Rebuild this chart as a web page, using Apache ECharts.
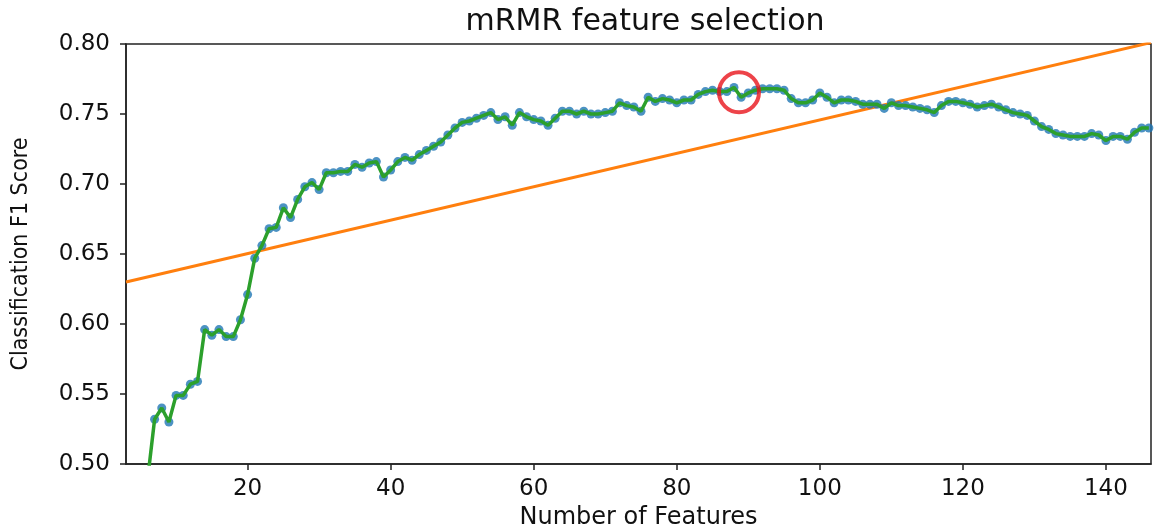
<!DOCTYPE html>
<html>
<head>
<meta charset="utf-8">
<script src="https://cdn.jsdelivr.net/npm/echarts@6/dist/echarts.min.js"></script>
<style>
  html, body { margin: 0; padding: 0; background: #fff; }
  #chart { width: 1154px; height: 529px; }
</style>
</head>
<body>
<div id="chart"></div>
<script>
// number of selected features (x) and the F1 score
const featureCounts = [];
for (let n = 6; n <= 146; n++) featureCounts.push(n);

const f1Scores = [
  0.488, 0.532, 0.540, 0.530, 0.549, 0.549, 0.557, 0.559, 0.596, 0.592,   // 6-15
  0.596, 0.591, 0.591, 0.603, 0.621, 0.647, 0.656, 0.668, 0.669, 0.683,   // 16-25
  0.676, 0.689, 0.698, 0.701, 0.696, 0.708, 0.708, 0.709, 0.709, 0.714,   // 26-35
  0.712, 0.715, 0.716, 0.705, 0.710, 0.716, 0.719, 0.717, 0.721, 0.724,   // 36-45
  0.727, 0.730, 0.735, 0.740, 0.744, 0.745, 0.747, 0.749, 0.751, 0.746,   // 46-55
  0.748, 0.742, 0.751, 0.748, 0.746, 0.745, 0.742, 0.747, 0.752, 0.752,   // 56-65
  0.750, 0.752, 0.750, 0.750, 0.751, 0.752, 0.758, 0.756, 0.755, 0.752,   // 66-75
  0.762, 0.759, 0.761, 0.760, 0.758, 0.760, 0.760, 0.764, 0.766, 0.767,   // 76-85
  0.766, 0.766, 0.769, 0.762, 0.765, 0.767, 0.768, 0.768, 0.768, 0.767,   // 86-95
  0.761, 0.758, 0.758, 0.760, 0.765, 0.762, 0.758, 0.760, 0.760, 0.759,   // 96-105
  0.757, 0.757, 0.757, 0.754, 0.758, 0.756, 0.756, 0.755, 0.754, 0.753,   // 106-115
  0.751, 0.756, 0.759, 0.759, 0.758, 0.757, 0.755, 0.756, 0.757, 0.755,   // 116-125
  0.753, 0.751, 0.750, 0.749, 0.745, 0.741, 0.739, 0.736, 0.735, 0.734,   // 126-135
  0.734, 0.734, 0.736, 0.735, 0.731, 0.734, 0.734, 0.732, 0.737, 0.740,   // 136-145
  0.740                                                                   // 146
];

// straight orange reference line (two end points)
const refLineX = [3, 146.3];
const refLineY = [0.630, 0.801];

// highlighted point (red ring)
const bestX = 88.7;
const bestY = 0.7655;

const xTicks = [20, 40, 60, 80, 100, 120, 140];

const scorePoints = featureCounts.map((n, i) => [n, f1Scores[i]]);
const refPoints = refLineX.map((x, i) => [x, refLineY[i]]);

const chart = echarts.init(document.getElementById('chart'), null, { renderer: 'canvas' });

const font = 'DejaVu Sans';

chart.setOption({
  animation: false,
  backgroundColor: '#fff',
  title: {
    text: 'mRMR feature selection',
    left: 640,
    textAlign: 'center',
    top: 2,
    textStyle: { fontFamily: font, fontSize: 30, fontWeight: 'normal', color: '#111' }
  },
  grid: {
    left: 126, right: 3, top: 44, bottom: 65,
    outerBoundsMode: 'none',
    containLabel: false,
    show: true, borderColor: '#222', borderWidth: 1.5
  },
  xAxis: {
    type: 'value',
    min: 3,
    max: 146.3,
    name: 'Number of Features',
    nameLocation: 'middle',
    nameGap: 40,
    nameTextStyle: { fontFamily: font, fontSize: 24, color: '#111' },
    splitLine: { show: false },
    axisLine: { lineStyle: { color: '#222', width: 1.5 } },
    axisTick: { inside: false, length: 6, lineStyle: { color: '#222', width: 1.5 }, customValues: xTicks },
    axisLabel: { customValues: xTicks, margin: 14, fontFamily: font, fontSize: 23, color: '#111' }
  },
  yAxis: {
    type: 'value',
    min: 0.5,
    max: 0.8,
    interval: 0.05,
    name: 'Classification F1 Score',
    nameLocation: 'middle',
    nameGap: 93,
    nameTextStyle: { fontFamily: 'DejaVu Sans Condensed', fontSize: 23, color: '#111' },
    splitLine: { show: false },
    axisLine: { lineStyle: { color: '#222', width: 1.5 } },
    axisTick: { length: 6, lineStyle: { color: '#222', width: 1.5 } },
    axisLabel: {
      margin: 16, fontFamily: font, fontSize: 23, color: '#111',
      formatter: v => v.toFixed(2)
    }
  },
  series: [
    {
      type: 'line',
      data: refPoints,
      showSymbol: false,
      lineStyle: { color: '#ff7f0e', width: 3 },
      clip: true,
      z: 1
    },
    {
      type: 'scatter',
      data: scorePoints,
      symbolSize: 9,
      itemStyle: { color: '#1f77b4', opacity: 0.8 },
      clip: true,
      z: 2
    },
    {
      type: 'line',
      data: scorePoints,
      showSymbol: false,
      lineStyle: { color: '#2ca02c', width: 3.5 },
      clip: true,
      z: 3
    },
    {
      type: 'scatter',
      data: [[bestX, bestY]],
      symbolSize: 40,
      itemStyle: { color: 'rgba(0,0,0,0)', borderColor: '#e8141c', borderWidth: 4 },
      z: 4
    }
  ]
});
</script>
</body>
</html>
